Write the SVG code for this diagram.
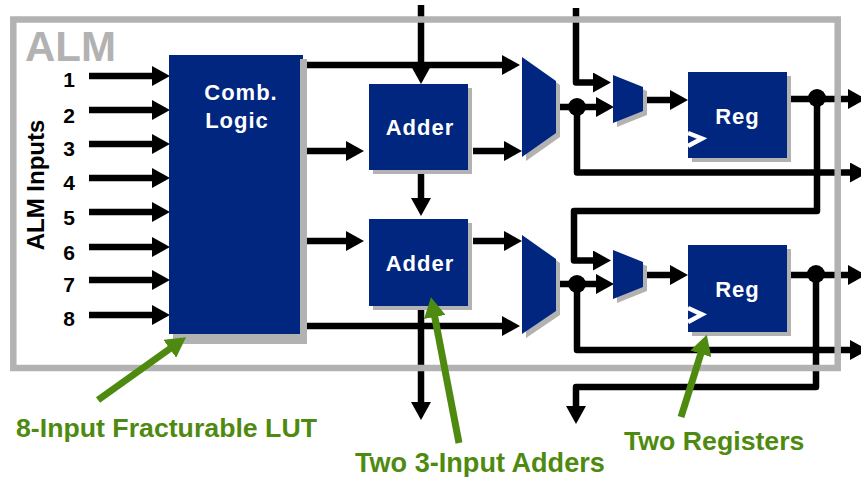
<svg xmlns="http://www.w3.org/2000/svg" width="861" height="477" viewBox="0 0 861 477">
<style>
.blue{fill:#00267f}
.sh{fill:#b2b2b2}
.w{fill:none;stroke:#000;stroke-width:6.500;stroke-linejoin:round}
.d{fill:#000}
.g{fill:none;stroke:#4f8a10;stroke-width:7}
.n{font-family:"Liberation Sans",Arial,sans-serif;font-weight:bold;font-size:21px;fill:#000;text-anchor:middle}
.t{font-family:"Liberation Sans",Arial,sans-serif;font-weight:bold;font-size:22px;letter-spacing:1px;fill:#fff;text-anchor:middle}
.l{font-family:"Liberation Sans",Arial,sans-serif;font-weight:bold;font-size:26.700px;fill:#4f8a10}
.ck{fill:none;stroke:#fff;stroke-width:4.500}
</style>
<defs>
<marker id="ah" markerUnits="userSpaceOnUse" markerWidth="18" markerHeight="20" refX="4" refY="10" orient="auto"><path d="M0 0L18 10L0 20z" fill="#000"/></marker>
<marker id="gh" markerUnits="userSpaceOnUse" markerWidth="20" markerHeight="22" refX="4" refY="11" orient="auto"><path d="M0 0L20 11L0 22z" fill="#4f8a10"/></marker>
</defs>
<rect width="861" height="477" fill="#fff"/>
<g id="connectors">
<path class="w" marker-end="url(#ah)" d="M89 76H156"/>
<path class="w" marker-end="url(#ah)" d="M89 110H156"/>
<path class="w" marker-end="url(#ah)" d="M89 144H156"/>
<path class="w" marker-end="url(#ah)" d="M89 178H156"/>
<path class="w" marker-end="url(#ah)" d="M89 212H156"/>
<path class="w" marker-end="url(#ah)" d="M89 247H156"/>
<path class="w" marker-end="url(#ah)" d="M89 280H156"/>
<path class="w" marker-end="url(#ah)" d="M89 315H156"/>
<path class="w" marker-end="url(#ah)" d="M421 5V70"/>
<path class="w" marker-end="url(#ah)" d="M305 65H506"/>
<path class="w" marker-end="url(#ah)" d="M307 151H350"/>
<path class="w" marker-end="url(#ah)" d="M307 241H350"/>
<path class="w" marker-end="url(#ah)" d="M305 326H506"/>
<path class="w" marker-end="url(#ah)" d="M421 172V202"/>
<path class="w" marker-end="url(#ah)" d="M421 300V406"/>
<path class="w" marker-end="url(#ah)" d="M473 151H508"/>
<path class="w" marker-end="url(#ah)" d="M473 241H508"/>
<path class="w" marker-end="url(#ah)" d="M576 8V82.500H597"/>
<path class="w" marker-end="url(#ah)" d="M559 107H600"/>
<path class="w" marker-end="url(#ah)" d="M647 100H674"/>
<path class="w" marker-end="url(#ah)" d="M577 107V172.500H854"/>
<path class="w" marker-end="url(#ah)" d="M791 99H852"/>
<path class="w" marker-end="url(#ah)" d="M817 98V211H574V260.500H597"/>
<path class="w" marker-end="url(#ah)" d="M559 284H600"/>
<path class="w" marker-end="url(#ah)" d="M647 275H674"/>
<path class="w" marker-end="url(#ah)" d="M577 284V350H854"/>
<path class="w" marker-end="url(#ah)" d="M787 275H852"/>
<path class="w" marker-end="url(#ah)" d="M816 274V387H576V410"/>
<circle class="d" cx="577" cy="107" r="9"/>
<circle class="d" cx="817" cy="98" r="9"/>
<circle class="d" cx="577" cy="284" r="9"/>
<circle class="d" cx="816" cy="274" r="9"/>
</g>
<g id="alm-frame">
<rect x="13.300" y="19.500" width="824.400" height="348.500" fill="none" stroke="#b2b2b2" stroke-width="6.500"/>
<text x="25" y="61" font-family="'Liberation Sans',Arial,sans-serif" font-weight="bold" font-size="42" fill="#b2b2b2">ALM</text>
</g>
<g id="inputs-label">
<text transform="translate(44 185) rotate(-90)" font-family="'Liberation Sans',Arial,sans-serif" font-weight="bold" font-size="24" fill="#000" text-anchor="middle">ALM Inputs</text>
<text class="n" x="69" y="87">1</text>
<text class="n" x="69" y="122.500">2</text>
<text class="n" x="69" y="155.500">3</text>
<text class="n" x="69" y="190">4</text>
<text class="n" x="69" y="225">5</text>
<text class="n" x="69" y="259.500">6</text>
<text class="n" x="69" y="292">7</text>
<text class="n" x="69" y="326">8</text>
</g>
<g id="comb-logic">
<path class="sh" d="M173 334H300V59H307V344H173z"/>
<path class="blue" d="M169 55H303V59H300V334H169z"/>
<text class="t" x="241" y="100">Comb.</text>
<text class="t" x="237" y="128">Logic</text>
</g>
<g id="adder-1">
<rect class="sh" x="373" y="88" width="99" height="86"/>
<rect class="blue" x="369" y="84" width="99" height="86"/>
<text class="t" x="420" y="135">Adder</text>
</g>
<g id="adder-2">
<rect class="sh" x="373" y="223" width="99" height="87"/>
<rect class="blue" x="369" y="219" width="99" height="87"/>
<text class="t" x="420" y="270.500">Adder</text>
</g>
<g id="mux-1">
<path class="sh" d="M526 61L560 85V137L526 161z"/>
<path class="blue" d="M522 57L556 81V133L522 157z"/>
</g>
<g id="mux-2">
<path class="sh" d="M526 239L560 263V315L526 338z"/>
<path class="blue" d="M522 235L556 259V311L522 334z"/>
</g>
<g id="mux-3">
<path class="sh" d="M617 79L647 91V115L617 127z"/>
<path class="blue" d="M613 75L643 87V111L613 123z"/>
</g>
<g id="mux-4">
<path class="sh" d="M617 254L647 266V291L617 303z"/>
<path class="blue" d="M613 250L643 262V287L613 299z"/>
</g>
<g id="reg-1">
<rect class="sh" x="692" y="76" width="99" height="86"/>
<rect class="blue" x="688" y="72" width="99" height="86"/>
<path class="ck" d="M688 133L702 138.500L688 146"/>
<text class="t" x="737.500" y="124">Reg</text>
</g>
<g id="reg-2">
<rect class="sh" x="692" y="249" width="99" height="87"/>
<rect class="blue" x="688" y="245" width="99" height="87"/>
<path class="ck" d="M688 308L702 314.500L688 322"/>
<text class="t" x="737.500" y="297">Reg</text>
</g>
<g id="callouts">
<path class="g" marker-end="url(#gh)" d="M98 400L173 346.500"/>
<path class="g" marker-end="url(#gh)" d="M459 443L434 313"/>
<path class="g" marker-end="url(#gh)" d="M681 417L702 350"/>
<text class="l" x="16" y="437">8-Input Fracturable LUT</text>
<text class="l" x="355" y="472" style="font-size:27.100px">Two 3-Input Adders</text>
<text class="l" x="624" y="450">Two Registers</text>
</g>
</svg>
